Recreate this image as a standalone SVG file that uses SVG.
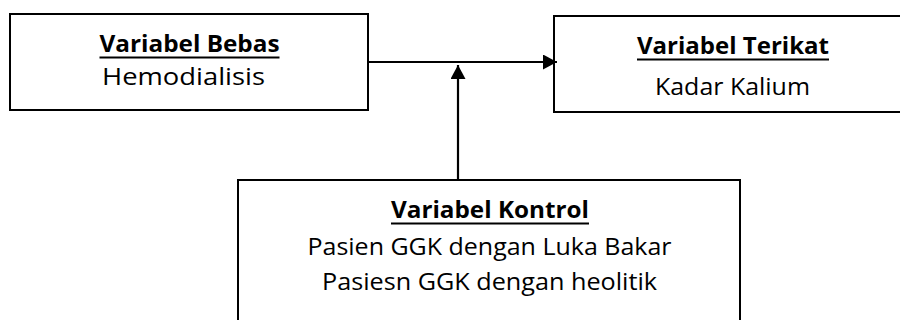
<svg xmlns="http://www.w3.org/2000/svg" width="900" height="320" viewBox="0 0 900 320">
  <style>
    .box { fill: #fff; stroke: #000; stroke-width: 2; }
    .edge { fill: none; stroke: #000; stroke-width: 2.2; }
    .ul { stroke: #000; stroke-width: 2; }
    .t { font-family: "Open Sans", "Liberation Sans", sans-serif; font-size: 23px; fill: #000; text-anchor: middle; }
    .h { font-weight: bold; }
  </style>
  <defs>
    <marker id="arrow" viewBox="0 0 14 15" refX="14" refY="7.5" markerWidth="14" markerHeight="15" markerUnits="userSpaceOnUse" orient="auto">
      <path d="M0,0 L14,7.5 L0,15 Z" fill="#000"/>
    </marker>
  </defs>

  <g id="node-bebas">
    <rect class="box" x="10" y="14" width="358" height="96"/>
    <text class="t h" x="189.5" y="51.5" textLength="180" lengthAdjust="spacingAndGlyphs">Variabel Bebas</text>
    <line class="ul" x1="99.5" y1="57.5" x2="279.5" y2="57.5"/>
    <text class="t" x="183.5" y="85" textLength="163" lengthAdjust="spacingAndGlyphs">Hemodialisis</text>
  </g>

  <g id="node-terikat">
    <rect class="box" x="554" y="16" width="360" height="96"/>
    <text class="t h" x="733" y="53.5" textLength="192" lengthAdjust="spacingAndGlyphs">Variabel Terikat</text>
    <line class="ul" x1="637" y1="59.5" x2="829" y2="59.5"/>
    <text class="t" x="732.5" y="95" textLength="155" lengthAdjust="spacingAndGlyphs">Kadar Kalium</text>
  </g>

  <g id="node-kontrol">
    <rect class="box" x="238" y="180" width="502" height="160"/>
    <text class="t h" x="490" y="218" textLength="198" lengthAdjust="spacingAndGlyphs">Variabel Kontrol</text>
    <line class="ul" x1="391" y1="223.5" x2="589" y2="223.5"/>
    <text class="t" x="489.5" y="255" textLength="364" lengthAdjust="spacingAndGlyphs">Pasien GGK dengan Luka Bakar</text>
    <text class="t" x="489.5" y="290" textLength="335" lengthAdjust="spacingAndGlyphs">Pasiesn GGK dengan heolitik</text>
  </g>

  <g id="connectors">
    <line class="edge" x1="369" y1="62" x2="557" y2="62" marker-end="url(#arrow)"/>
    <line class="edge" x1="458" y1="180" x2="458" y2="65" marker-end="url(#arrow)"/>
  </g>
</svg>
